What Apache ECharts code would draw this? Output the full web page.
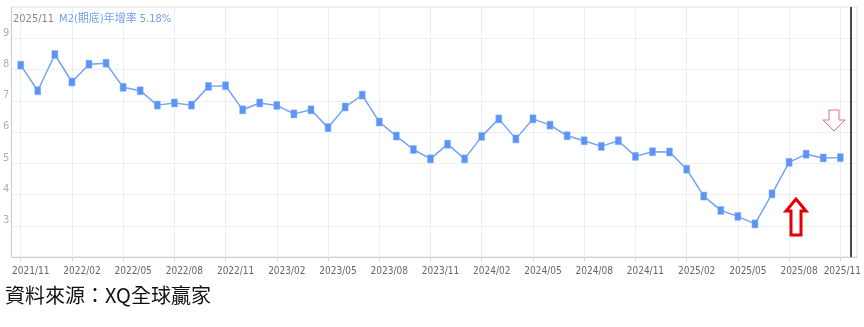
<!DOCTYPE html>
<html>
<head>
<meta charset="utf-8">
<style>
  html, body { margin: 0; padding: 0; background: #fff; }
  #main { width: 864px; height: 327px; }
</style>
<script src="https://cdn.jsdelivr.net/npm/echarts@6/dist/echarts.min.js"></script>
</head>
<body>
<div id="main"></div>
<script>
// 月份
var months = [
  '2021/11', '2021/12', '2022/01', '2022/02', '2022/03', '2022/04', '2022/05', '2022/06', '2022/07', '2022/08', '2022/09', '2022/10',
  '2022/11', '2022/12', '2023/01', '2023/02', '2023/03', '2023/04', '2023/05', '2023/06', '2023/07', '2023/08', '2023/09', '2023/10',
  '2023/11', '2023/12', '2024/01', '2024/02', '2024/03', '2024/04', '2024/05', '2024/06', '2024/07', '2024/08', '2024/09', '2024/10',
  '2024/11', '2024/12', '2025/01', '2025/02', '2025/03', '2025/04', '2025/05', '2025/06', '2025/07', '2025/08', '2025/09', '2025/10',
  '2025/11'
];
// M2(期底)年增率 %
var m2Growth = [
  8.14, 7.32, 8.48, 7.60, 8.17, 8.20, 7.43, 7.32, 6.86, 6.93, 6.86, 7.46,
  7.48, 6.71, 6.93, 6.85, 6.58, 6.71, 6.14, 6.80, 7.18, 6.32, 5.87, 5.44,
  5.14, 5.61, 5.14, 5.86, 6.42, 5.78, 6.42, 6.22, 5.88, 5.72, 5.54, 5.72,
  5.22, 5.37, 5.36, 4.81, 3.95, 3.49, 3.30, 3.06, 4.02, 5.03, 5.29, 5.17,
  5.18
];
var yTicks = [3, 4, 5, 6, 7, 8, 9];

var narrow = "'Liberation Sans Narrow', 'DejaVu Sans Condensed', 'Noto Sans CJK TC', sans-serif";

(function () {
  'use strict';
  var myChart = echarts.init(document.getElementById('main'));
  var last = months.length - 1;

  var option = {
    animation: false,
    backgroundColor: '#fff',
    title: {
      left: 8,
      top: 5,
      text: '{d|' + months[last] + '} {v|M2(期底)年增率 ' + m2Growth[last].toFixed(2) + '%}',
      textStyle: {
        rich: {
          d: { color: '#8a8a8a', fontSize: 11, fontWeight: 'normal', fontFamily: narrow },
          v: { color: '#6f9ff0', fontSize: 11, fontWeight: 'normal', fontFamily: narrow }
        }
      }
    },
    grid: [
      { left: 8, right: 7, top: 7, bottom: 70, show: true, borderColor: '#e3e3e3', borderWidth: 1 },
      { left: 20.7, right: 18, top: 7, bottom: 70 }
    ],
    xAxis: [
      {
        gridIndex: 0, type: 'value', min: 0, max: 1,
        axisLine: { show: true, lineStyle: { color: '#cfcfcf' } },
        axisTick: { show: false }, axisLabel: { show: false }, splitLine: { show: false }
      },
      {
        gridIndex: 1, type: 'category', data: months, boundaryGap: false,
        axisLine: { show: false },
        axisTick: { show: true, interval: 2, length: 4, lineStyle: { color: '#cfcfcf' } },
        axisLabel: {
          interval: 2, color: '#666', fontSize: 10, fontFamily: narrow, margin: 9,
          padding: [0, 0, 0, 20],
          formatter: function (v, i) {
            return i === last ? '{e|' + v + '}' : v;
          },
          rich: { e: { padding: [0, 16, 0, 0], color: '#666', fontSize: 10, fontFamily: narrow } }
        },
        splitLine: { show: true, interval: 2, lineStyle: { color: '#e6f0f8' } }
      }
    ],
    yAxis: [
      {
        gridIndex: 0, type: 'value', min: 2, max: 10, interval: 1,
        axisLine: { show: true, lineStyle: { color: '#cfcfcf' } },
        axisTick: { show: false },
        axisLabel: {
          color: '#b0b0b0', fontSize: 11, fontFamily: narrow, margin: 2,
          verticalAlign: 'bottom',
          formatter: function (v) { return yTicks.indexOf(v) >= 0 ? String(v) : ''; }
        },
        splitLine: { show: true, lineStyle: { color: '#efefef' } }
      },
      {
        gridIndex: 1, type: 'value', min: 2, max: 10, show: false
      }
    ],
    series: [{
      name: 'M2(期底)年增率',
      type: 'line',
      xAxisIndex: 1,
      yAxisIndex: 1,
      data: m2Growth,
      symbol: 'rect',
      symbolSize: [6, 8],
      lineStyle: { color: '#74a3f0', width: 1.5 },
      itemStyle: { color: '#5a94f4', borderColor: '#8fb6f6', borderWidth: 0.5 }
    }],
    graphic: [
      // 游標線
      { type: 'line', shape: { x1: 851, y1: 7, x2: 851, y2: 257 }, style: { stroke: '#4a4a4a', lineWidth: 2 }, z: 10 },
      // 紅色向上箭頭
      {
        type: 'polygon', z: 10,
        shape: { points: [[796, 199], [806, 211], [801, 211], [801, 235], [791, 235], [791, 211], [786, 211]] },
        style: { fill: '#fff', stroke: '#e60000', lineWidth: 3 }
      },
      // 淡紅向下箭頭
      {
        type: 'polygon', z: 10,
        shape: { points: [[829, 110], [839, 110], [839, 120], [845, 120], [834, 131], [823, 120], [829, 120]] },
        style: { fill: '#fff', stroke: '#f27070', lineWidth: 1 }
      },
      {
        type: 'text', left: 5, top: 285, z: 10,
        style: { text: '資料來源：XQ全球贏家', fill: '#111', fontSize: 20, fontFamily: "'Noto Sans CJK TC', sans-serif" }
      }
    ]
  };

  myChart.setOption(option);
  window.addEventListener('resize', function () {
    myChart.resize();
  });
})();
</script>
</body>
</html>
